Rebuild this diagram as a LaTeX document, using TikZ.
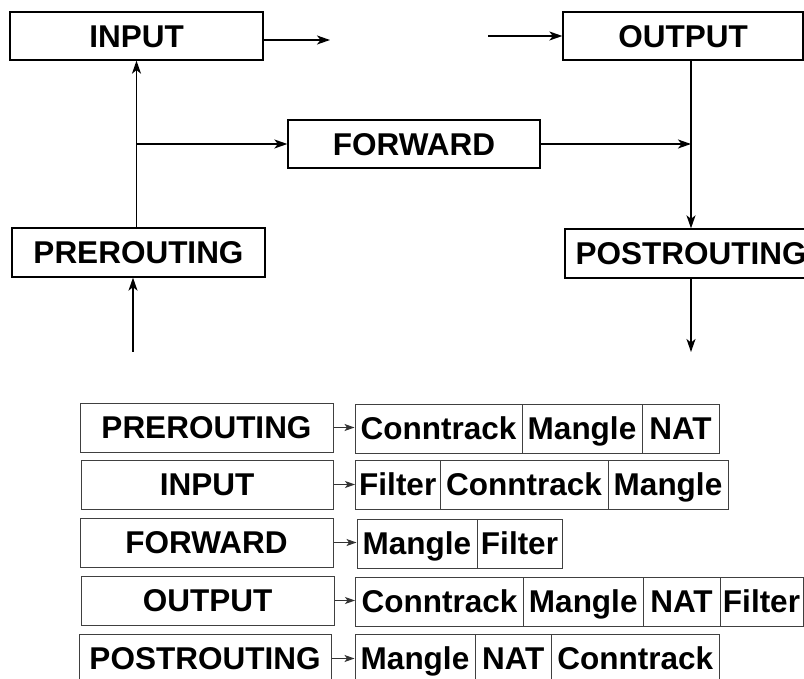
\documentclass[tikz,border=0pt]{standalone}
\usepackage{fontspec}
\setmainfont{Liberation Sans}
\usetikzlibrary{arrows.meta}
\tikzset{
  lbl/.style={font=\fontsize{31.5}{36}\selectfont\bfseries, inner sep=0pt, text height=22.6pt, text depth=0pt},
  topbox/.style={lbl, draw=black, line width=1.3pt},
  tbox/.style={lbl, draw=black!75, line width=1pt},
  arr/.style={-{Stealth[length=13pt,width=9pt,inset=3.5pt]}, line width=1.3pt},
  sarr/.style={-{Stealth[length=10pt,width=7pt,inset=2.5pt]}, line width=1pt, draw=black!80},
}
\newcommand{\cbox}[5]{% name, x1, x2, yc, text
  \node[tbox, minimum width={(#3-#2)*1pt}, minimum height=49pt] (#1) at ({(#2+#3)/2},#4) {#5};}
\begin{document}
\begin{tikzpicture}[x=1pt,y=-1pt]
\clip (0,0) rectangle (804,679);
\fill[white] (0,0) rectangle (804,679);
% top diagram
\node[topbox, minimum width=253pt, minimum height=48pt] (INPUT) at (136.5,36) {INPUT};
\node[topbox, minimum width=240pt, minimum height=48pt] (OUTPUT) at (683,36) {OUTPUT};
\node[topbox, minimum width=252pt, minimum height=48pt] (FORWARD) at (414,144) {FORWARD};
\node[topbox, minimum width=253pt, minimum height=49pt] (PREROUTING) at (138.5,252.5) {PREROUTING};
\node[topbox, minimum width=252pt, minimum height=49pt] (POSTROUTING) at (691,253.5) {POSTROUTING};
\coordinate (outA) at (330,40);
\coordinate (outB) at (488,36);
\coordinate (br) at (136.5,144);
\coordinate (inP) at (133,352);
\coordinate (outP) at (691,352);
\draw[arr] ([yshift=-4pt]INPUT.east) -- (outA);
\draw[arr] (outB) -- (OUTPUT.west);
\draw[arr] (INPUT.south |- PREROUTING.north) -- (INPUT.south);
\draw[arr] (br) -- (FORWARD.west);
\draw[arr] (FORWARD.east) -- (FORWARD.east -| POSTROUTING.north);
\draw[arr] (OUTPUT.south -| POSTROUTING.north) -- (POSTROUTING.north);
\draw[arr] (inP) -- (inP |- PREROUTING.south);
\draw[arr] (POSTROUTING.south) -- (outP);
% table
\cbox{t1}{80}{333}{427.5}{PREROUTING}
\cbox{t1a}{355}{522}{428.5}{Conntrack}
\cbox{t1b}{522}{642}{428.5}{Mangle}
\cbox{t1c}{642}{719}{428.5}{NAT}
\cbox{t2}{81}{333}{484.5}{INPUT}
\cbox{t2a}{355.5}{440}{484.5}{Filter}
\cbox{t2b}{440}{608}{484.5}{Conntrack}
\cbox{t2c}{608}{728}{484.5}{Mangle}
\cbox{t3}{80}{333}{542.5}{FORWARD}
\cbox{t3a}{357}{477}{543.5}{Mangle}
\cbox{t3b}{477}{562}{543.5}{Filter}
\cbox{t4}{81}{334}{600.5}{OUTPUT}
\cbox{t4a}{355.5}{523.5}{601.5}{Conntrack}
\cbox{t4b}{523.5}{643}{601.5}{Mangle}
\cbox{t4c}{643}{720}{601.5}{NAT}
\cbox{t4d}{720}{803}{601.5}{Filter}
\cbox{t5}{79}{331}{658.5}{POSTROUTING}
\cbox{t5a}{355}{475}{658.5}{Mangle}
\cbox{t5b}{475}{551.5}{658.5}{NAT}
\cbox{t5c}{551.5}{719}{658.5}{Conntrack}
\draw[sarr] (t1.east) -- (t1.east -| t1a.west);
\draw[sarr] (t2.east) -- (t2.east -| t2a.west);
\draw[sarr] (t3.east) -- (t3.east -| t3a.west);
\draw[sarr] (t4.east) -- (t4.east -| t4a.west);
\draw[sarr] (t5.east) -- (t5.east -| t5a.west);
\end{tikzpicture}
\end{document}
